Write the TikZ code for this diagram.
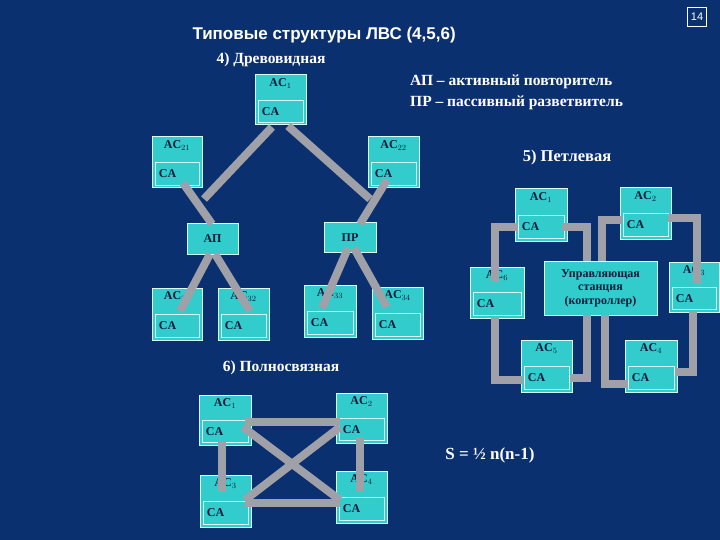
\documentclass[tikz,border=0pt]{standalone}
\usepackage{fontspec}
\setmainfont{Liberation Serif}
\newfontfamily\titlefont{Liberation Sans}
\usetikzlibrary{calc}
\definecolor{bg}{HTML}{0B3070}
\definecolor{cy}{HTML}{33CCCC}
\definecolor{edgec}{HTML}{D8FFFF}
\definecolor{txt}{HTML}{0A1A3A}
\definecolor{ln}{HTML}{A0A0A8}
\tikzset{
 box/.style={draw=edgec,line width=1pt,fill=cy,inner sep=0pt},
 cabox/.style={draw=edgec,line width=0.7pt,inner sep=0pt},
 lbl/.style={text=txt,font=\bfseries\fontsize{12}{12}\selectfont,inner sep=1pt},
 wlbl/.style={text=white,font=\bfseries\fontsize{15.5}{16}\selectfont,inner sep=0pt},
 link/.style={draw=ln,line width=8pt},
}
% name, x1, y1, x2, y2, label
\newcommand\acbox[6]{%
 \node[box,minimum width={(#4-#2)*1pt},minimum height={(#5-#3)*1pt}] (#1) at ({(#2+#4)/2},{(#3+#5)/2}) {};
 \node[lbl,anchor=north] at ($(#1.north)+(0,3)$) {#6};
 \node[cabox,anchor=south,minimum width={(#4-#2-6)*1pt},minimum height={((#5-#3)/2-3)*1pt}] (#1ca) at ($(#1.south)+(0,-3)$) {};
 \node[lbl,anchor=west] at ($(#1ca.west)+(3,0)$) {CA};
}
\newcommand\plainbox[6]{%
 \node[box,minimum width={(#4-#2)*1pt},minimum height={(#5-#3)*1pt},lbl,align=center,font=\bfseries\fontsize{12}{13.5}\selectfont] (#1) at ({(#2+#4)/2},{(#3+#5)/2}) {#6};
}
\begin{document}
\begin{tikzpicture}[x=1pt,y=-1pt]
\fill[bg] (0,0) rectangle (720,540);
\useasboundingbox (0,0) rectangle (720,540);
% title
\node[text=white,font=\titlefont\bfseries\fontsize{17}{18}\selectfont,anchor=west] (title) at (189,35) {Типовые структуры ЛВС (4,5,6)};
\node[draw=white,line width=0.8pt,text=white,font=\titlefont\fontsize{11}{11}\selectfont,minimum width=19pt,minimum height=19pt,inner sep=0pt] (pg) at (697,17) {14};
\node[wlbl] (t4) at (271,60) {4) Древовидная};
\node[wlbl,anchor=west] (leg1) at (410,82) {АП – активный повторитель};
\node[wlbl,anchor=west] (leg2) at (410,103) {ПР – пассивный разветвитель};
\node[wlbl,font=\bfseries\fontsize{16.5}{17}\selectfont] (t5) at (567,158) {5) Петлевая};
\node[wlbl] (t6) at (281,368) {6) Полносвязная};
\node[wlbl,font=\bfseries\fontsize{17}{18}\selectfont] (form) at (490,455) {S = ½ n(n-1)};

% tree
\acbox{t1}{255}{75}{306}{125}{AC$_1$}
\acbox{t21}{152}{137}{202}{188}{AC$_{21}$}
\acbox{t22}{368}{137}{419}{188}{AC$_{22}$}
\plainbox{ap}{187}{224}{238}{254}{АП}
\plainbox{pr}{324}{223}{376}{252}{ПР}
\acbox{t31}{152}{288}{202}{340}{AC$_{31}$}
\acbox{t32}{218}{288}{269}{340}{AC$_{32}$}
\acbox{t33}{304}{285}{356}{337}{AC$_{33}$}
\acbox{t34}{372}{287}{423}{339}{AC$_{34}$}
\draw[link] (272,127) -- (204,199);
\draw[link] (183,183) -- (212,224);
\draw[link] (288,126) -- (370,199);
\draw[link] (387,180) -- (360,224);
\draw[link] (210,254) -- (180,311);
\draw[link] (215,254) -- (250,311);
\draw[link] (348,248) -- (322,308);
\draw[link] (354,248) -- (387,307);

% ring
\acbox{r1}{515}{189}{567}{241}{AC$_1$}
\acbox{r2}{620}{188}{671}{239}{AC$_2$}
\acbox{r6}{470}{267}{524}{318}{AC$_6$}
\plainbox{ctl}{544}{261}{657}{315}{Управляющая\\станция\\(контроллер)}
\acbox{r3}{669}{262}{719}{312}{AC$_3$}
\acbox{r5}{521}{340}{572}{392}{AC$_5$}
\acbox{r4}{625}{340}{677}{392}{AC$_4$}
\draw[link] (495,282) -- (495,227) -- (518,227);
\draw[link] (562,227) -- (587,227) -- (587,261);
\draw[link] (602,261) -- (602,220) -- (622,220);
\draw[link] (668,218) -- (697,218) -- (697,284);
\draw[link] (693,312) -- (693,372) -- (675,372);
\draw[link] (605,315) -- (605,384) -- (628,384);
\draw[link] (587,315) -- (587,378) -- (570,378);
\draw[link] (495,318) -- (495,380) -- (523,380);

% mesh
\acbox{m1}{199}{395}{251}{445}{AC$_1$}
\acbox{m2}{336}{393}{387}{443}{AC$_2$}
\acbox{m3}{200}{475}{251}{527}{AC$_3$}
\acbox{m4}{336}{471}{387}{523}{AC$_4$}
\draw[link] (245,422) -- (340,422);
\draw[link] (245,503) -- (340,503);
\draw[link] (243,427) -- (340,500);
\draw[link] (245,500) -- (340,427);
\draw[link] (222,442) -- (222,492);
\draw[link] (360,437) -- (360,492);
\end{tikzpicture}
\end{document}
